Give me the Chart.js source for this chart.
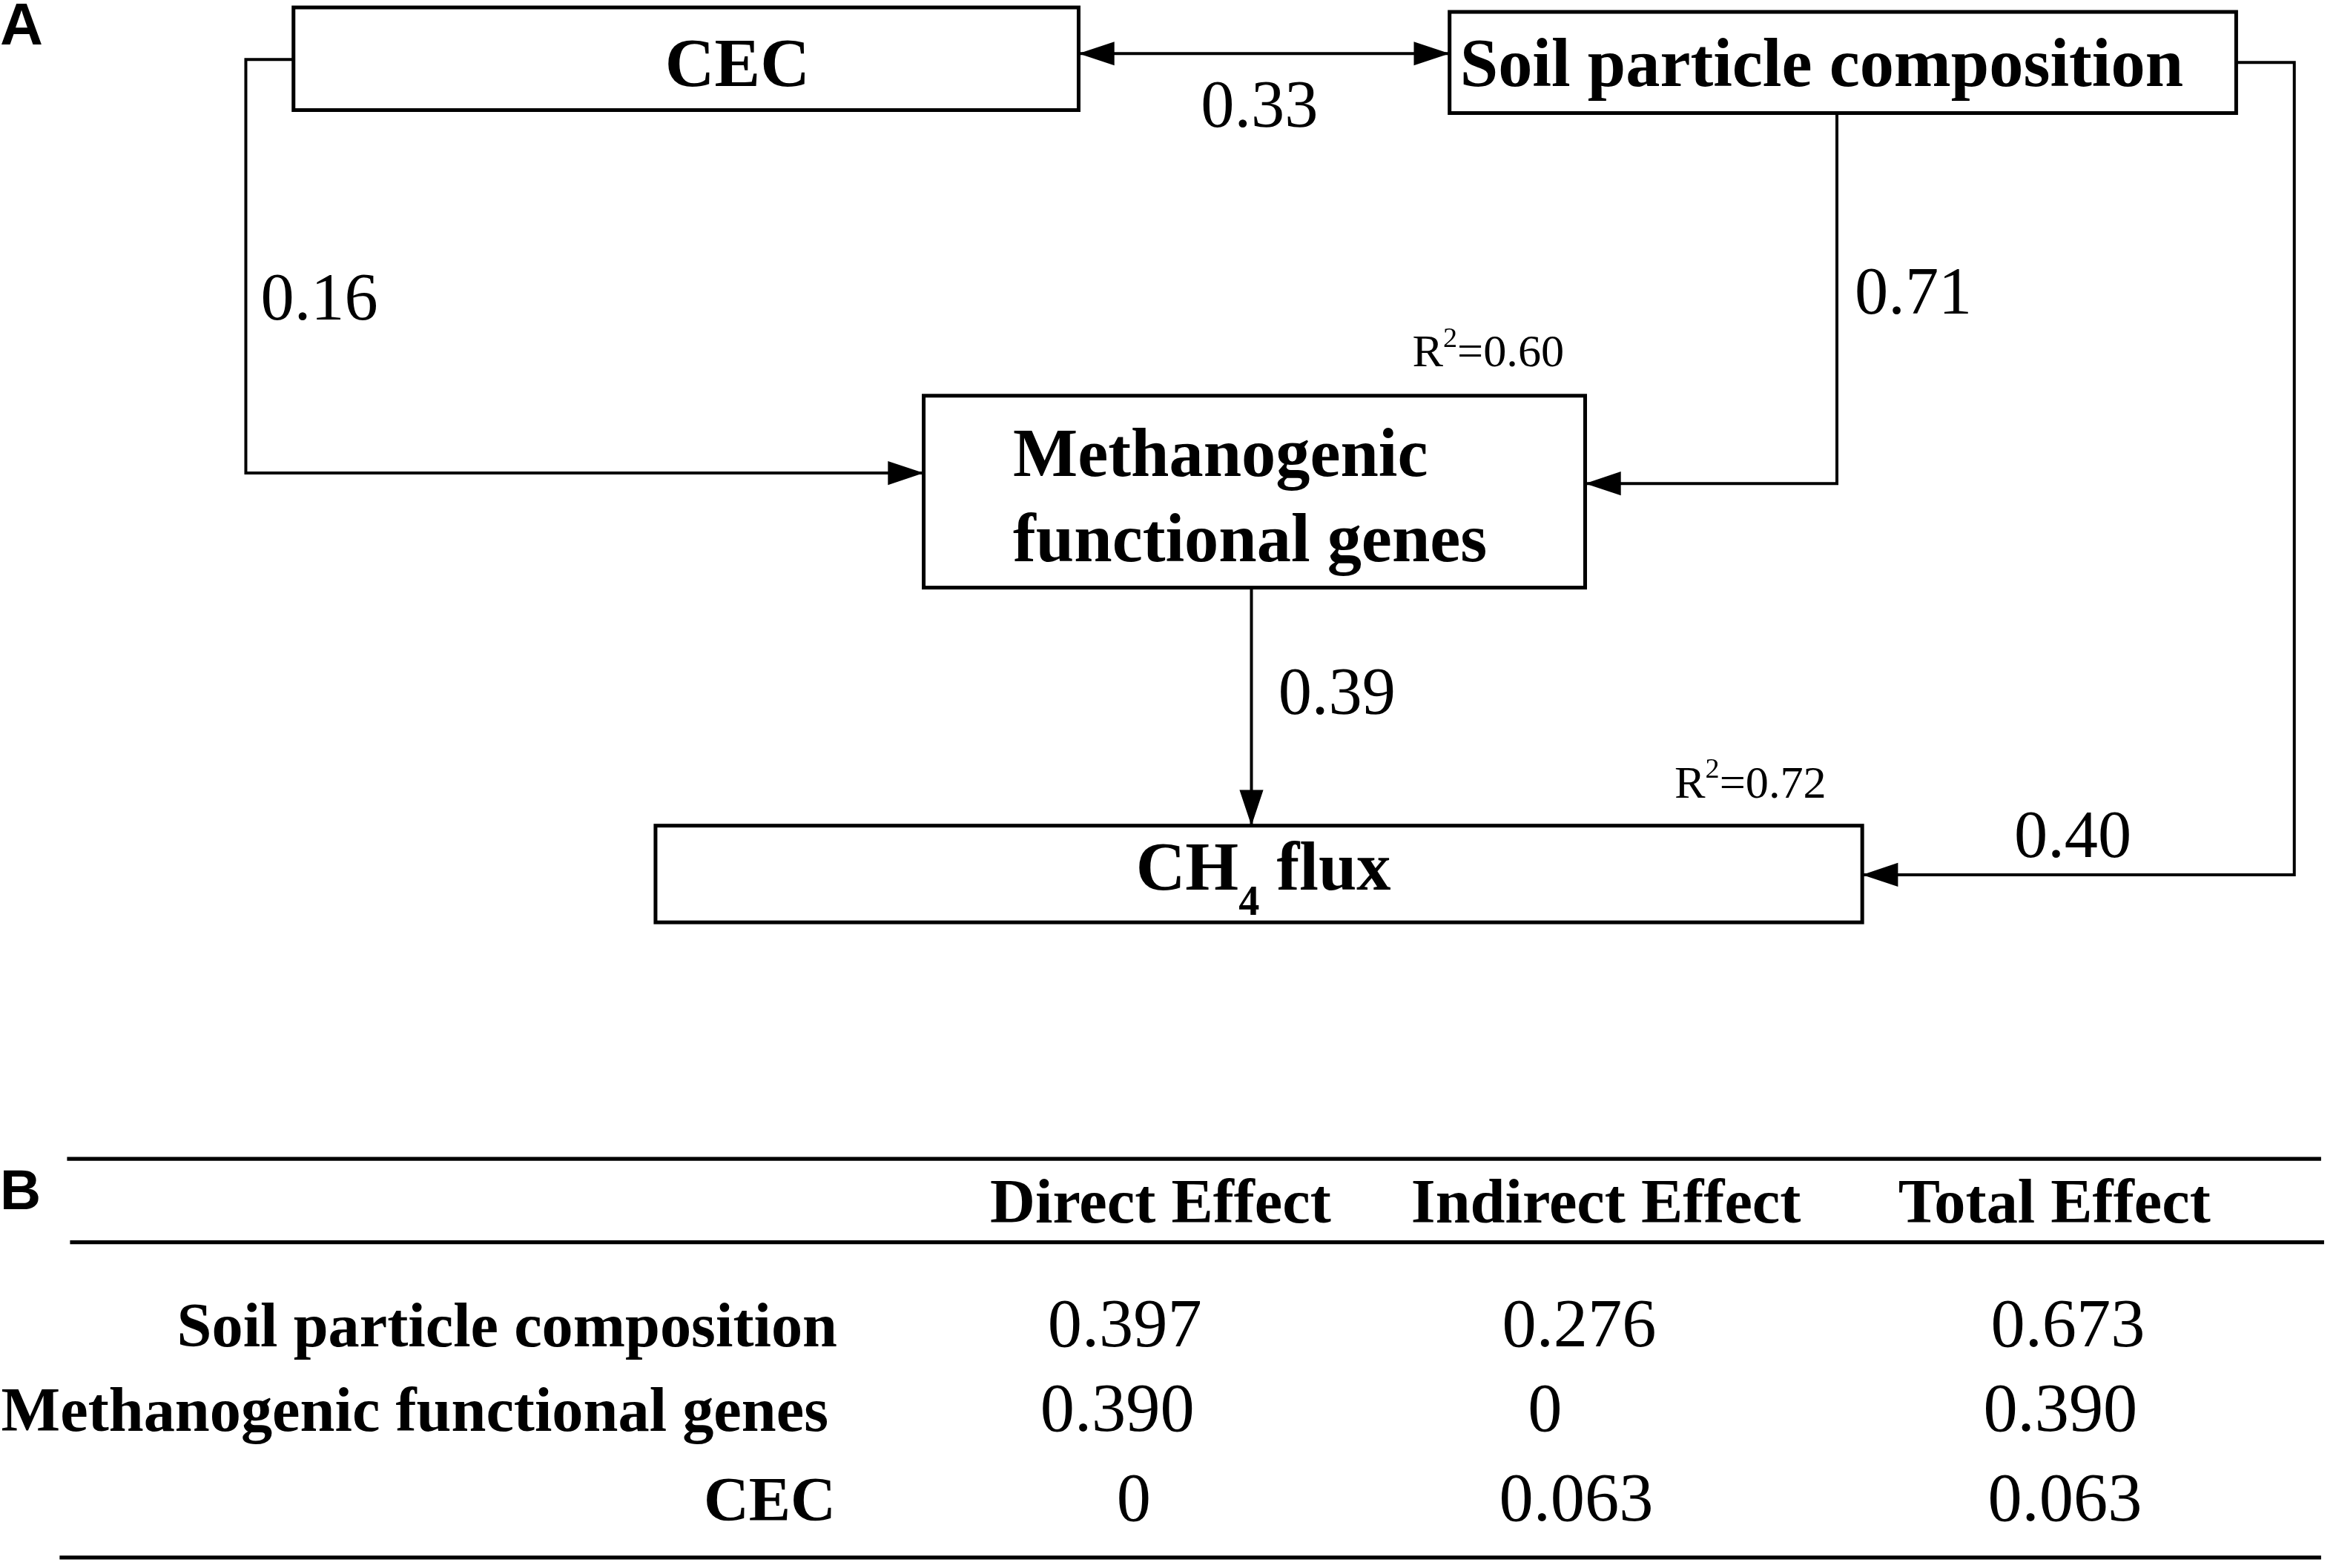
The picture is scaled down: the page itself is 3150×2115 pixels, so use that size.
<!DOCTYPE html>
<html>
<head>
<meta charset="utf-8">
<script src="https://cdn.jsdelivr.net/npm/chart.js@4"></script>
<style>
  html, body { margin: 0; padding: 0; background: #fff; }
  #wrap { width: 3150px; height: 2115px; position: relative; }
</style>
</head>
<body>
<div id="wrap"><canvas id="pathChart"></canvas></div>
<script>
// path model
const nodeNames = ['CEC', 'Soil particle composition', 'Methanogenic functional genes', 'CH4 flux'];
const pathFrom = [0, 0, 1, 1, 2];
const pathTo = [1, 2, 2, 3, 3];
const pathCoef = [0.33, 0.16, 0.71, 0.40, 0.39];
const r2Nodes = [2, 3];
const r2Values = [0.60, 0.72];

// effects table (panel B)
const effectColumns = ['Direct Effect', 'Indirect Effect', 'Total Effect'];
const effectRows = ['Soil particle composition', 'Methanogenic functional genes', 'CEC'];
const directEffect = [0.397, 0.390, 0];
const indirectEffect = [0.276, 0, 0.063];
const totalEffect = [0.673, 0.390, 0.063];

// layout, in units of the reference figure (1568 x 1054)
const W = 1568, H = 1054;
const boxLayout = [
  { x0: 197, y0: 5, x1: 724, y1: 74, align: 'center', tx: 495, ty: [58], wrap: false },
  { x0: 973, y0: 8, x1: 1501, y1: 76, align: 'left', tx: 980, ty: [58], wrap: false },
  { x0: 620, y0: 266, x1: 1064, y1: 395, align: 'left', tx: 680, ty: [320, 377], wrap: true },
  { x0: 440, y0: 555, x1: 1250, y1: 620, align: 'center', tx: 848, ty: [598], wrap: false }
];
const routeLayout = [
  { pts: [[724, 36], [973, 36]], both: true, label: [806, 85] },
  { pts: [[197, 40], [165, 40], [165, 318], [620, 318]], label: [175, 215] },
  { pts: [[1233, 76], [1233, 325], [1064, 325]], label: [1245, 211] },
  { pts: [[1501, 42], [1540, 42], [1540, 588], [1250, 588]], label: [1352, 576] },
  { pts: [[840, 395], [840, 555]], label: [858, 480] }
];
const r2Pos = [[948, 246], [1124, 536]];
const tableRules = [[45, 1558, 779], [47, 1560, 835], [40, 1558, 1047]];
const headerY = 822;
const colX = [779, 1078, 1379];
const valueX = [755, 1058, 1386];
const valueNudge = [[0, 2, 2], [-5, -21, -3], [6, 0, 0]];
const rowY = [905, 962, 1022];
const rowLabelX = [562, 556, 561];

const SERIF = '"Liberation Serif", "Times New Roman", serif';
const SANS = '"Liberation Sans", Arial, sans-serif';

function fmt(v, d) {
  return v === 0 ? '0' : v.toFixed(d);
}

const pathDiagram = {
  id: 'pathDiagram',
  afterDatasetsDraw(chart) {
    const ctx = chart.ctx;
    const sx = chart.scales.x, sy = chart.scales.y;
    const X = v => sx.getPixelForValue(v);
    const Y = v => sy.getPixelForValue(v);
    const k = X(1) - X(0);

    function text(str, x, y, size, bold, align, family) {
      ctx.font = (bold ? 'bold ' : '') + (size * k) + 'px ' + (family || SERIF);
      ctx.textAlign = align || 'left';
      ctx.textBaseline = 'alphabetic';
      ctx.fillStyle = '#000';
      ctx.fillText(str, X(x), Y(y));
    }

    function arrowHead(p, q) {
      // tip at q, coming from p
      const ax = X(q[0]), ay = Y(q[1]);
      const dx = X(q[0]) - X(p[0]), dy = Y(q[1]) - Y(p[1]);
      const len = Math.hypot(dx, dy);
      const ux = dx / len, uy = dy / len;
      const L = 24 * k, hw = 8 * k;
      ctx.beginPath();
      ctx.moveTo(ax, ay);
      ctx.lineTo(ax - ux * L - uy * hw, ay - uy * L + ux * hw);
      ctx.lineTo(ax - ux * L + uy * hw, ay - uy * L - ux * hw);
      ctx.closePath();
      ctx.fillStyle = '#000';
      ctx.fill();
    }

    ctx.save();

    // arrowheads and path coefficients
    routeLayout.forEach((r, i) => {
      const n = r.pts.length;
      arrowHead(r.pts[n - 2], r.pts[n - 1]);
      if (r.both) arrowHead(r.pts[1], r.pts[0]);
      text(fmt(pathCoef[i], 2), r.label[0], r.label[1], 45, false);
    });

    // node boxes
    ctx.strokeStyle = '#000';
    ctx.lineWidth = 2.5 * k;
    boxLayout.forEach((b, i) => {
      ctx.strokeRect(X(b.x0), Y(b.y0), X(b.x1) - X(b.x0), Y(b.y1) - Y(b.y0));
      const name = nodeNames[i];
      let lines = [name];
      if (b.wrap) {
        const cut = name.indexOf(' ');
        lines = [name.slice(0, cut), name.slice(cut + 1)];
      }
      lines.forEach((ln, j) => {
        const m = ln.match(/^([A-Z]+)(\d)(.*)$/);
        if (m) {
          // chemical formula with subscript, e.g. CH4
          ctx.font = 'bold ' + (46 * k) + 'px ' + SERIF;
          const w1 = ctx.measureText(m[1]).width;
          const w3 = ctx.measureText(m[3]).width;
          ctx.font = 'bold ' + (28 * k) + 'px ' + SERIF;
          const w2 = ctx.measureText(m[2]).width;
          const left = X(b.tx) - (w1 + w2 + w3) / 2;
          const base = Y(b.ty[j]);
          ctx.textAlign = 'left';
          ctx.font = 'bold ' + (46 * k) + 'px ' + SERIF;
          ctx.fillText(m[1], left, base);
          ctx.fillText(m[3], left + w1 + w2, base);
          ctx.font = 'bold ' + (28 * k) + 'px ' + SERIF;
          ctx.fillText(m[2], left + w1, base + 17 * k);
        } else {
          text(ln, b.tx, b.ty[j], 46, true, b.align);
        }
      });
    });

    // R squared labels
    r2Nodes.forEach((node, i) => {
      const p = r2Pos[i];
      ctx.font = (31 * k) + 'px ' + SERIF;
      ctx.textAlign = 'left';
      let x = X(p[0]);
      const base = Y(p[1]);
      ctx.fillText('R', x, base);
      x += ctx.measureText('R').width;
      ctx.font = (19 * k) + 'px ' + SERIF;
      ctx.fillText('2', x, base - 13 * k);
      x += ctx.measureText('2').width;
      ctx.font = (31 * k) + 'px ' + SERIF;
      ctx.fillText('=' + fmt(r2Values[i], 2), x, base);
    });

    // panel letters
    text('A', 0, 30, 40, true, 'left', SANS);
    text('B', 0, 813, 38, true, 'left', SANS);

    // table rules
    ctx.lineWidth = 2.6 * k;
    tableRules.forEach(t => {
      ctx.beginPath();
      ctx.moveTo(X(t[0]), Y(t[2]));
      ctx.lineTo(X(t[1]), Y(t[2]));
      ctx.stroke();
    });

    effectColumns.forEach((c, j) => text(c, colX[j], headerY, 42, true, 'center'));
    const cols = [directEffect, indirectEffect, totalEffect];
    effectRows.forEach((r, i) => {
      text(r, rowLabelX[i], rowY[i], 42, true, 'right');
      cols.forEach((col, j) => text(fmt(col[i], 3), valueX[j] + valueNudge[i][j], rowY[i], 46, false, 'center'));
    });

    ctx.restore();
  }
};

const lineSets = routeLayout.map((r, i) => ({
  label: nodeNames[pathFrom[i]] + ' -> ' + nodeNames[pathTo[i]],
  data: r.pts.map(p => ({ x: p[0], y: p[1] })),
  showLine: true,
  borderColor: '#000',
  borderWidth: 4,
  pointRadius: 0,
  fill: false,
  tension: 0
}));

new Chart(document.getElementById('pathChart').getContext('2d'), {
  type: 'scatter',
  data: { datasets: lineSets },
  options: {
    responsive: true,
    maintainAspectRatio: false,
    animation: false,
    devicePixelRatio: 1,
    layout: { padding: 0 },
    plugins: {
      legend: { display: false },
      tooltip: { enabled: false }
    },
    scales: {
      x: { type: 'linear', min: 0, max: W, display: false },
      y: { type: 'linear', min: 0, max: H, reverse: true, display: false }
    }
  },
  plugins: [pathDiagram]
});
</script>
</body>
</html>
